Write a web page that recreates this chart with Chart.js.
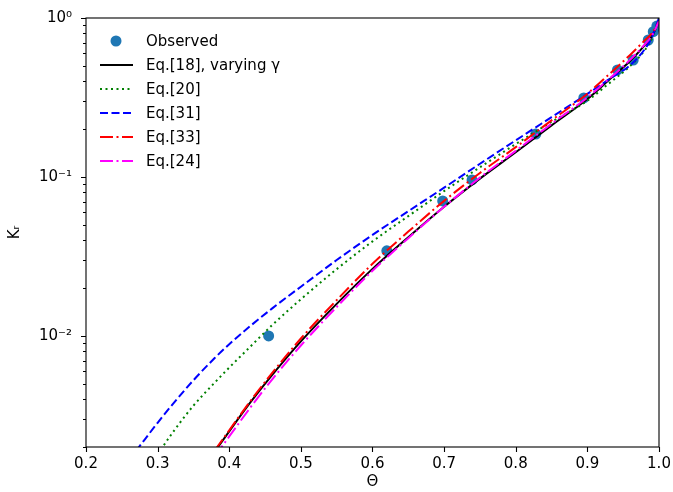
<!DOCTYPE html>
<html>
<head>
<meta charset="utf-8">
<script src="https://cdn.jsdelivr.net/npm/chart.js@4.4.1/dist/chart.umd.min.js"></script>
<style>
  body { margin: 0; background: #fff; }
  #wrap { width: 673px; height: 492px; }
</style>
</head>
<body>
<div id="wrap"><canvas id="kr-chart"></canvas></div>
<script>
// observed points
const obsTheta = [0.455, 0.620, 0.698, 0.739, 0.828, 0.895, 0.942, 0.964, 0.985, 0.992, 0.997];
const obsKr = [0.0100, 0.0343, 0.0706, 0.0958, 0.186, 0.314, 0.471, 0.544, 0.727, 0.82, 0.89];

// Eq.[18], varying gamma (black)
const eq18Theta = [0.38, 0.40, 0.43, 0.46, 0.50, 0.55, 0.60, 0.65, 0.70, 0.75, 0.80, 0.85, 0.90, 0.93, 0.96, 0.98, 0.99, 1.0];
const eq18Kr = [0.00188, 0.00251, 0.00384, 0.00568, 0.00923, 0.0159, 0.0264, 0.0418, 0.0649, 0.0976, 0.143, 0.211, 0.309, 0.407, 0.539, 0.672, 0.766, 0.951];

// Eq.[20] (green dotted)
const eq20Theta = [0.30, 0.32, 0.35, 0.38, 0.40, 0.43, 0.46, 0.50, 0.55, 0.60, 0.65, 0.70, 0.75, 0.80, 0.85, 0.90, 0.93, 0.96, 0.98, 0.99, 1.0];
const eq20Kr = [0.00180, 0.00243, 0.00364, 0.00510, 0.00632, 0.00861, 0.0117, 0.0170, 0.0263, 0.0393, 0.0567, 0.0815, 0.115, 0.161, 0.222, 0.302, 0.387, 0.500, 0.626, 0.743, 1.0];

// Eq.[31] (blue dashed)
const eq31Theta = [0.26, 0.28, 0.30, 0.32, 0.35, 0.38, 0.40, 0.43, 0.46, 0.50, 0.55, 0.60, 0.65, 0.70, 0.75, 0.80, 0.85, 0.90, 0.93, 0.96, 0.98, 0.99, 1.0];
const eq31Kr = [0.00165, 0.00217, 0.00284, 0.00367, 0.00526, 0.00728, 0.00887, 0.0116, 0.0149, 0.0204, 0.0300, 0.0432, 0.0609, 0.0856, 0.121, 0.170, 0.238, 0.333, 0.411, 0.506, 0.635, 0.757, 1.0];

// Eq.[33] (red dash-dot)
const eq33Theta = [0.38, 0.40, 0.43, 0.46, 0.50, 0.55, 0.60, 0.65, 0.70, 0.75, 0.80, 0.85, 0.90, 0.93, 0.96, 0.98, 0.99, 1.0];
const eq33Kr = [0.00191, 0.00255, 0.00392, 0.00585, 0.00963, 0.0168, 0.0284, 0.0453, 0.0707, 0.106, 0.154, 0.227, 0.334, 0.441, 0.588, 0.722, 0.800, 0.951];

// Eq.[24] (magenta dash-dot)
const eq24Theta = [0.38, 0.40, 0.43, 0.46, 0.50, 0.55, 0.60, 0.65, 0.70, 0.75, 0.80, 0.85, 0.90, 0.93, 0.96, 0.98, 0.99, 1.0];
const eq24Kr = [0.00175, 0.00233, 0.00357, 0.00533, 0.00870, 0.0152, 0.0257, 0.0412, 0.0649, 0.0990, 0.146, 0.216, 0.316, 0.413, 0.547, 0.681, 0.772, 0.951];

const xTicks = [0.2, 0.3, 0.4, 0.5, 0.6, 0.7, 0.8, 0.9, 1.0];
const yMajorTicks = [0.01, 0.1, 1];
const yMajorLabels = ['10\u207B\u00B2', '10\u207B\u00B9', '10\u2070'];

const FONT = "'DejaVu Sans', sans-serif";

function pts(xs, ys) {
    return xs.map((x, i) => ({ x: x, y: ys[i] }));
}

function lineSet(label, xs, ys, color, dash, order) {
    return {
        label: label,
        data: pts(xs, ys),
        borderColor: color,
        backgroundColor: color,
        borderWidth: 2,
        borderDash: dash,
        pointRadius: 0,
        cubicInterpolationMode: 'monotone',
        order: order
    };
}

const datasets = [
    {
        label: 'Observed',
        data: pts(obsTheta, obsKr),
        showLine: false,
        pointRadius: 5.5,
        pointHoverRadius: 5.5,
        pointBackgroundColor: '#1f77b4',
        pointBorderWidth: 0,
        borderColor: '#1f77b4',
        backgroundColor: '#1f77b4',
        order: 6
    },
    lineSet('Eq.[18], varying \u03B3', eq18Theta, eq18Kr, '#000000', [], 5),
    lineSet('Eq.[20]', eq20Theta, eq20Kr, '#008000', [2, 3.5], 4),
    lineSet('Eq.[31]', eq31Theta, eq31Kr, '#0000ff', [8, 3.5], 3),
    lineSet('Eq.[33]', eq33Theta, eq33Kr, '#ff0000', [13, 3.5, 2, 3.5], 2),
    lineSet('Eq.[24]', eq24Theta, eq24Kr, '#ff00ff', [13, 3.5, 2, 3.5], 1)
];

function noPadding(scale) {
    scale.paddingLeft = 0;
    scale.paddingRight = 0;
    scale.paddingTop = 0;
    scale.paddingBottom = 0;
}

// frame, tick marks and the legend inside the axes
const axesDecor = {
    id: 'axesDecor',
    afterDraw(chart) {
        const ctx = chart.ctx;
        const area = chart.chartArea;
        const xs = chart.scales.x;
        const ys = chart.scales.y;
        ctx.save();
        ctx.strokeStyle = '#000';
        ctx.lineWidth = 1.1;
        ctx.strokeRect(area.left, area.top, area.right - area.left, area.bottom - area.top);

        ctx.beginPath();
        xTicks.forEach(v => {
            const px = Math.round(xs.getPixelForValue(v)) + 0.5;
            ctx.moveTo(px, area.bottom);
            ctx.lineTo(px, area.bottom + 5);
        });
        for (let d = -3; d <= 0; d++) {
            for (let m = 1; m <= 9; m++) {
                const v = m * Math.pow(10, d);
                if (v < ys.min - 1e-12 || v > ys.max + 1e-12) continue;
                const py = Math.round(ys.getPixelForValue(v)) + 0.5;
                const len = m === 1 ? 5 : 3;
                ctx.moveTo(area.left, py);
                ctx.lineTo(area.left - len, py);
            }
        }
        ctx.stroke();

        // legend
        const lx = area.left + 14;
        const tx = area.left + 60;
        let ly = area.top + 23;
        ctx.font = '15px ' + FONT;
        ctx.textBaseline = 'middle';
        chart.data.datasets.forEach(ds => {
            if (ds.showLine === false) {
                ctx.beginPath();
                ctx.fillStyle = ds.pointBackgroundColor;
                ctx.arc(lx + 16, ly, 5.5, 0, Math.PI * 2);
                ctx.fill();
            } else {
                ctx.beginPath();
                ctx.strokeStyle = ds.borderColor;
                ctx.lineWidth = ds.borderWidth;
                ctx.setLineDash(ds.borderDash);
                ctx.moveTo(lx, ly);
                ctx.lineTo(lx + 33, ly);
                ctx.stroke();
                ctx.setLineDash([]);
            }
            ctx.fillStyle = '#000';
            ctx.fillText(ds.label, tx, ly + 1);
            ly += 24;
        });
        ctx.restore();
    }
};

new Chart(document.getElementById('kr-chart'), {
    type: 'line',
    data: { datasets: datasets },
    plugins: [axesDecor],
    options: {
        responsive: true,
        maintainAspectRatio: false,
        animation: false,
        layout: { padding: { left: 0, right: 14, top: 18, bottom: 0 } },
        plugins: {
            legend: { display: false },
            tooltip: { enabled: false }
        },
        scales: {
            x: {
                type: 'linear',
                min: 0.2,
                max: 1.0,
                grid: { display: false, drawTicks: false },
                border: { display: false },
                afterBuildTicks: scale => { scale.ticks = xTicks.map(v => ({ value: v })); },
                afterFit: scale => { scale.height = 45; noPadding(scale); },
                ticks: {
                    autoSkip: false,
                    maxRotation: 0,
                    padding: 8,
                    color: '#000',
                    font: { family: FONT, size: 15 },
                    callback: v => v.toFixed(1)
                },
                title: {
                    display: true,
                    text: '\u0398',
                    color: '#000',
                    font: { family: FONT, size: 15 },
                    padding: { top: 0, bottom: 1 }
                }
            },
            y: {
                type: 'logarithmic',
                min: 0.002,
                max: 1,
                grid: { display: false, drawTicks: false },
                border: { display: false },
                afterBuildTicks: scale => { scale.ticks = yMajorTicks.map(v => ({ value: v })); },
                afterFit: scale => { scale.width = 86; noPadding(scale); },
                ticks: {
                    autoSkip: false,
                    padding: 14,
                    color: '#000',
                    font: { family: FONT, size: 15 },
                    callback: v => {
                        const i = yMajorTicks.findIndex(t => Math.abs(t - v) < 1e-9);
                        return i >= 0 ? yMajorLabels[i] : '';
                    }
                },
                title: {
                    display: true,
                    text: 'K\u1D63',
                    color: '#000',
                    font: { family: FONT, size: 15 },
                    padding: { top: 6, bottom: 0 }
                }
            }
        }
    }
});
</script>
</body>
</html>
